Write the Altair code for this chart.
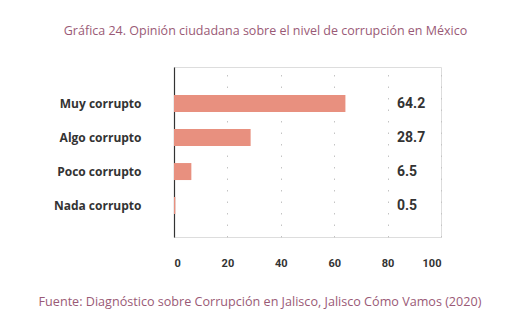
import altair as alt
import pandas as pd

categories = ["Muy corrupto", "Algo corrupto", "Poco corrupto", "Nada corrupto"]
values = [64.2, 28.7, 6.5, 0.5]
labels = ["64.2", "28.7", "6.5", "0.5"]
x_ticks = [0, 20, 40, 60, 80, 100]
title_text = "Gráfica 24. Opinión ciudadana sobre el nivel de corrupción en México"
source_text = "Fuente: Diagnóstico sobre Corrupción en Jalisco, Jalisco Cómo Vamos (2020)"

df = pd.DataFrame({"cat": categories, "val": values, "lab": labels})

y_scale = alt.Scale(paddingInner=0.5, paddingOuter=0.75, align=0.55)

bars = alt.Chart(df).mark_bar(color="#E8907F").encode(
    x=alt.X("val:Q", scale=alt.Scale(domain=[0, 100], nice=False),
            axis=alt.Axis(title=None, values=x_ticks, domain=False, ticks=False,
                          labelPadding=20, labelFont="Roboto", labelFontWeight="bold",
                          labelFontSize=11, labelColor="#333333",
                          grid=True, gridColor="#c4c4c4", gridDash=[1.5, 10],
                          gridWidth=1)),
    y=alt.Y("cat:N", sort=categories, scale=y_scale,
            axis=alt.Axis(title=None, ticks=False, labelPadding=33,
                          labelFont="Open Sans", labelFontWeight="bold",
                          labelFontSize=12, labelColor="#333333",
                          domainColor="#333333", domainWidth=1.2,
                          grid=False)),
)

text = alt.Chart(df).mark_text(align="left", baseline="middle", font="Roboto",
                               fontWeight="bold", fontSize=14, color="#333333").encode(
    x=alt.value(223),
    y=alt.Y("cat:N", sort=categories, scale=y_scale),
    text="lab:N",
)

bottom = alt.Chart(pd.DataFrame({"t": [source_text]})).mark_text(
    font="Open Sans", fontSize=12.6, color="#9A5A76", align="center", baseline="middle"
).encode(text="t:N", x=alt.value(86), y=alt.value(235))

chart = alt.layer(bars, text, bottom).properties(
    width=267, height=170,
    autosize=alt.AutoSizeParams(type="none"),
    padding={"left": 174, "top": 67, "right": 79, "bottom": 91},
    title=alt.TitleParams(
        title_text,
        font="Open Sans", fontSize=12.5, fontWeight="normal", color="#9A5A76",
        anchor="middle", dx=-42, offset=30),
).configure_view(stroke=None).configure(background="white")

chart.save("out.html", embed_options={"renderer": "svg", "actions": False})
